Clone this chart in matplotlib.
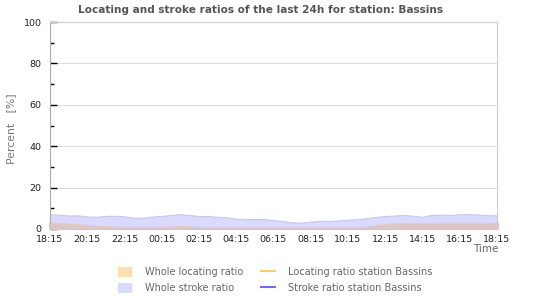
import matplotlib
matplotlib.use("Agg")
import matplotlib.pyplot as plt
from matplotlib.patches import Patch
from matplotlib.lines import Line2D
from matplotlib.ticker import MultipleLocator

# hours since 18:15 (half-hour steps)
hours = [i * 0.5 for i in range(49)]
stroke_ratio = [7.1, 6.9, 6.5, 6.6, 6.0, 5.9, 6.3, 6.4, 6.1, 5.4, 5.5, 6.0, 6.3,
                6.8, 7.2, 6.7, 6.3, 6.2, 5.9, 5.6, 5.0, 4.7, 4.8, 4.8, 4.3, 3.8,
                3.2, 3.1, 3.6, 3.9, 3.9, 4.2, 4.5, 4.8, 5.2, 5.8, 6.3, 6.5, 6.8,
                6.4, 5.9, 6.8, 6.9, 6.8, 7.1, 7.2, 7.0, 6.7, 6.6]
locating_ratio = [2.9, 2.8, 2.6, 2.4, 2.0, 1.6, 1.3, 1.2, 1.1, 1.1, 1.1, 1.1, 1.1,
                  1.2, 1.5, 1.3, 1.0, 0.9, 0.8, 0.8, 0.8, 0.8, 0.8, 0.8, 0.8, 0.8,
                  0.8, 0.8, 0.8, 0.8, 0.8, 0.8, 0.8, 0.8, 1.2, 1.8, 2.4, 2.7, 2.8,
                  2.8, 2.8, 2.8, 2.8, 2.8, 2.8, 2.8, 2.8, 2.8, 2.8]
xtick_pos = list(range(0, 25, 2))
xtick_labels = ["18:15", "20:15", "22:15", "00:15", "02:15", "04:15", "06:15",
                "08:15", "10:15", "12:15", "14:15", "16:15", "18:15"]
title = "Locating and stroke ratios of the last 24h for station: Bassins"

fig = plt.figure(figsize=(5.5, 3.0), dpi=100)
ax = fig.add_axes([50 / 550, 71 / 300, 447 / 550, 207 / 300])

ax.fill_between(hours, 0, stroke_ratio, color="#dadaff", edgecolor="#c6c6f6",
                linewidth=0.8, zorder=2)
ax.fill_between(hours, 0, locating_ratio, color="#dbc7cb", edgecolor="#e3c8b8",
                linewidth=0.6, zorder=3)

ax.set_xlim(0, 24)
ax.set_ylim(0, 100)
ax.set_xticks(xtick_pos)
ax.set_xticklabels(xtick_labels)
ax.xaxis.set_minor_locator(MultipleLocator(0.5))
ax.set_yticks([0, 20, 40, 60, 80, 100])
ax.yaxis.set_minor_locator(MultipleLocator(10))
ax.tick_params(axis="both", which="major", direction="in", length=5, width=1,
               color="black", labelsize=6.8, labelcolor="#222222", zorder=5)
ax.tick_params(axis="x", which="major", pad=4)
ax.tick_params(axis="y", which="major", pad=6)
ax.tick_params(axis="both", which="minor", direction="in", length=3, width=1,
               color="black")
ax.grid(axis="y", which="major", color="#dddddd", linewidth=0.8, zorder=0)
ax.set_axisbelow(True)
for s in ["top", "right"]:
    ax.spines[s].set_color("#cccccc")
for s in ["left", "bottom"]:
    ax.spines[s].set_color("#aaaaaa")
for s in ax.spines.values():
    s.set_linewidth(0.8)

fig.text(11 / 550, 1 - 129 / 300, "Percent   [%]", rotation=90, ha="center",
         va="center", fontsize=7.8, color="#777777")
fig.text(498 / 550, 1 - 249 / 300, "Time", ha="right", va="center",
         fontsize=7.5, color="#666666")
fig.text(260 / 550, 1 - 10 / 300, title, ha="center", va="center", fontsize=7.6,
         fontweight="bold", color="#555555")

handles = [Patch(facecolor="#ffdfb0", edgecolor="none"),
           Patch(facecolor="#dadafc", edgecolor="none"),
           Line2D([], [], color="#ffcc66", linewidth=1.5),
           Line2D([], [], color="#6b6bff", linewidth=1.5)]
labels = ["Whole locating ratio", "Whole stroke ratio",
          "Locating ratio station Bassins", "Stroke ratio station Bassins"]
fig.legend(handles, labels, ncol=2, loc="center", bbox_to_anchor=(0.5, 1 - 280 / 300),
           frameon=False, fontsize=7.0, labelcolor="#666666", handlelength=1.5,
           handleheight=1.2, handletextpad=1.3, columnspacing=1.8, labelspacing=0.55)

fig.savefig("out.png", dpi=100)
